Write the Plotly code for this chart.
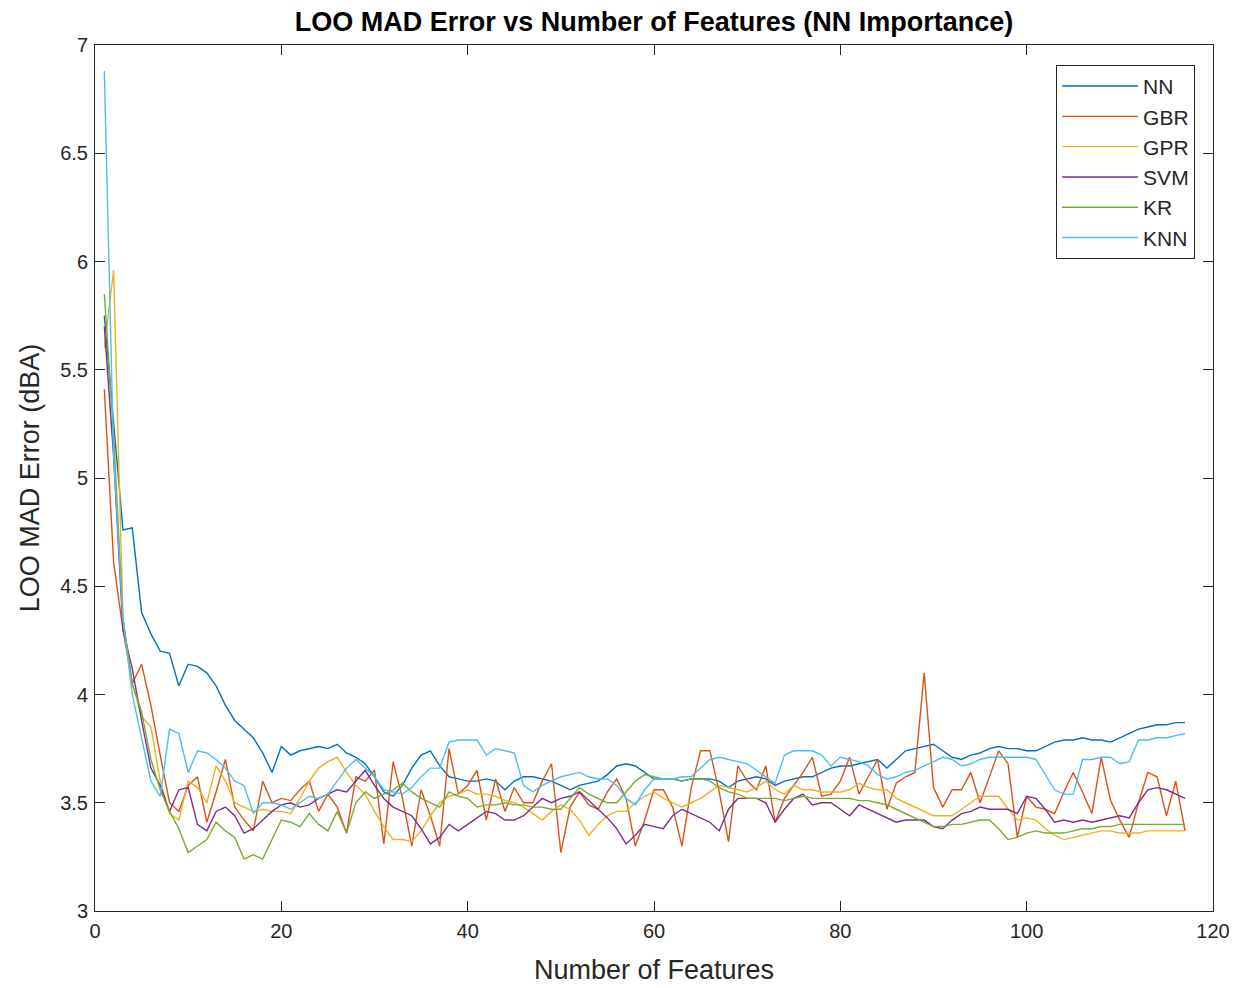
import plotly.graph_objects as go

# Number of features used in each leave-one-out run
n_features = list(range(1, 118))

nn = [5.75, 5.25, 4.76, 4.77, 4.38, 4.28, 4.20, 4.19, 4.04, 4.14,
      4.13, 4.10, 4.04, 3.95, 3.88, 3.84, 3.80, 3.73, 3.64, 3.76,
      3.72, 3.74, 3.75, 3.76, 3.75, 3.77, 3.73, 3.71, 3.68, 3.62,
      3.55, 3.53, 3.58, 3.66, 3.72, 3.74, 3.67, 3.62, 3.61, 3.60,
      3.60, 3.61, 3.60, 3.56, 3.60, 3.62, 3.62, 3.61, 3.60, 3.58,
      3.56, 3.58, 3.59, 3.60, 3.63, 3.67, 3.68, 3.67, 3.64, 3.61,
      3.61, 3.61, 3.60, 3.61, 3.61, 3.61, 3.60, 3.57, 3.60, 3.61,
      3.62, 3.61, 3.58, 3.60, 3.61, 3.62, 3.62, 3.64, 3.66, 3.67,
      3.67, 3.68, 3.69, 3.70, 3.66, 3.70, 3.74, 3.75, 3.76, 3.77,
      3.74, 3.71, 3.70, 3.72, 3.73, 3.75, 3.76, 3.75, 3.75, 3.74,
      3.74, 3.76, 3.78, 3.79, 3.79, 3.80, 3.79, 3.79, 3.78, 3.80,
      3.82, 3.84, 3.85, 3.86, 3.86, 3.87, 3.87]

gbr = [5.41, 4.61, 4.30, 4.05, 4.14, 3.95, 3.72, 3.50, 3.46, 3.58,
       3.62, 3.41, 3.55, 3.70, 3.48, 3.42, 3.37, 3.60, 3.50, 3.52,
       3.51, 3.56, 3.60, 3.46, 3.54, 3.48, 3.36, 3.62, 3.60, 3.65,
       3.31, 3.69, 3.52, 3.30, 3.56, 3.44, 3.30, 3.75, 3.54, 3.58,
       3.65, 3.42, 3.61, 3.46, 3.57, 3.50, 3.50, 3.60, 3.68, 3.27,
       3.48, 3.55, 3.49, 3.47, 3.55, 3.61, 3.52, 3.30, 3.42, 3.56,
       3.56, 3.48, 3.30, 3.57, 3.74, 3.74, 3.55, 3.32, 3.67, 3.60,
       3.56, 3.67, 3.41, 3.52, 3.58, 3.64, 3.71, 3.53, 3.54, 3.60,
       3.71, 3.54, 3.62, 3.70, 3.47, 3.59, 3.62, 3.64, 4.10, 3.57,
       3.48, 3.56, 3.56, 3.64, 3.50, 3.62, 3.74, 3.68, 3.34, 3.53,
       3.48, 3.47, 3.45, 3.55, 3.64, 3.55, 3.45, 3.71, 3.51, 3.42,
       3.34, 3.50, 3.64, 3.62, 3.44, 3.60, 3.37]

gpr = [5.60, 5.96, 4.35, 4.05, 3.90, 3.85, 3.60, 3.45, 3.42, 3.60,
       3.57, 3.50, 3.67, 3.60, 3.50, 3.48, 3.46, 3.47, 3.46, 3.46,
       3.45, 3.52, 3.60, 3.66, 3.69, 3.71, 3.64, 3.58, 3.54, 3.46,
       3.39, 3.33, 3.33, 3.32, 3.37, 3.44, 3.50, 3.53, 3.54, 3.56,
       3.54, 3.54, 3.53, 3.51, 3.50, 3.48, 3.45, 3.42, 3.46, 3.49,
       3.47, 3.42, 3.35, 3.40, 3.44, 3.46, 3.46, 3.50, 3.53, 3.55,
       3.52, 3.50, 3.48, 3.50, 3.52, 3.55, 3.58, 3.57, 3.56, 3.55,
       3.57, 3.60, 3.56, 3.54, 3.58, 3.56, 3.56, 3.55, 3.55, 3.55,
       3.56, 3.59, 3.57, 3.56, 3.56, 3.52, 3.50, 3.48, 3.46, 3.44,
       3.44, 3.44, 3.47, 3.50, 3.53, 3.53, 3.53, 3.47, 3.42, 3.43,
       3.42, 3.38, 3.35, 3.33, 3.34, 3.35, 3.36, 3.37, 3.37, 3.36,
       3.36, 3.36, 3.37, 3.37, 3.37, 3.37, 3.37]

svm = [5.70, 5.10, 4.30, 4.12, 3.88, 3.66, 3.58, 3.46, 3.56, 3.57,
       3.40, 3.37, 3.46, 3.48, 3.44, 3.36, 3.38, 3.42, 3.46, 3.49,
       3.50, 3.48, 3.49, 3.52, 3.54, 3.56, 3.55, 3.60, 3.65, 3.58,
       3.52, 3.48, 3.46, 3.44, 3.38, 3.31, 3.34, 3.40, 3.37, 3.40,
       3.43, 3.46, 3.45, 3.42, 3.42, 3.44, 3.48, 3.52, 3.50, 3.52,
       3.53, 3.55, 3.51, 3.47, 3.43, 3.38, 3.31, 3.35, 3.40, 3.39,
       3.38, 3.44, 3.47, 3.45, 3.43, 3.41, 3.37, 3.47, 3.52, 3.52,
       3.52, 3.50, 3.41, 3.47, 3.52, 3.54, 3.49, 3.50, 3.50, 3.47,
       3.44, 3.49, 3.47, 3.45, 3.43, 3.41, 3.42, 3.42, 3.42, 3.39,
       3.38, 3.42, 3.45, 3.46, 3.48, 3.47, 3.47, 3.47, 3.45, 3.53,
       3.52, 3.47, 3.41, 3.42, 3.41, 3.42, 3.41, 3.42, 3.43, 3.44,
       3.43, 3.50, 3.56, 3.57, 3.56, 3.54, 3.52]

kr = [5.85, 5.20, 4.35, 4.05, 3.92, 3.70, 3.56, 3.46, 3.38, 3.27,
      3.30, 3.33, 3.41, 3.37, 3.34, 3.24, 3.26, 3.24, 3.33, 3.42,
      3.41, 3.39, 3.45, 3.40, 3.37, 3.46, 3.36, 3.50, 3.55, 3.52,
      3.54, 3.56, 3.59, 3.55, 3.52, 3.50, 3.48, 3.55, 3.53, 3.52,
      3.48, 3.49, 3.49, 3.50, 3.49, 3.49, 3.48, 3.48, 3.47, 3.47,
      3.52, 3.57, 3.54, 3.52, 3.50, 3.50, 3.55, 3.60, 3.63, 3.62,
      3.61, 3.61, 3.60, 3.61, 3.61, 3.60, 3.57, 3.55, 3.54, 3.52,
      3.52, 3.52, 3.52, 3.51, 3.52, 3.53, 3.52, 3.52, 3.52, 3.52,
      3.52, 3.51, 3.51, 3.50, 3.49, 3.47, 3.45, 3.43, 3.41, 3.39,
      3.39, 3.40, 3.40, 3.41, 3.42, 3.42, 3.38, 3.33, 3.34, 3.36,
      3.37, 3.36, 3.36, 3.36, 3.37, 3.38, 3.38, 3.39, 3.39, 3.40,
      3.40, 3.40, 3.40, 3.40, 3.40, 3.40, 3.40]

knn = [6.88, 5.10, 4.35, 4.00, 3.80, 3.60, 3.53, 3.84, 3.82, 3.64,
       3.74, 3.73, 3.70, 3.66, 3.60, 3.58, 3.45, 3.50, 3.50, 3.49,
       3.47, 3.50, 3.53, 3.52, 3.54, 3.60, 3.66, 3.70, 3.66, 3.62,
       3.56, 3.55, 3.54, 3.57, 3.62, 3.66, 3.66, 3.78, 3.79, 3.79,
       3.79, 3.72, 3.75, 3.74, 3.73, 3.58, 3.55, 3.58, 3.60, 3.62,
       3.63, 3.64, 3.62, 3.61, 3.61, 3.58, 3.52, 3.49, 3.56, 3.61,
       3.61, 3.61, 3.62, 3.62, 3.66, 3.70, 3.71, 3.70, 3.69, 3.68,
       3.65, 3.62, 3.59, 3.72, 3.74, 3.74, 3.74, 3.72, 3.67, 3.71,
       3.70, 3.69, 3.67, 3.63, 3.61, 3.62, 3.64, 3.65, 3.67, 3.69,
       3.71, 3.70, 3.67, 3.68, 3.70, 3.71, 3.71, 3.71, 3.71, 3.71,
       3.70, 3.63, 3.56, 3.54, 3.54, 3.70, 3.70, 3.71, 3.71, 3.68,
       3.69, 3.79, 3.79, 3.80, 3.80, 3.81, 3.82]

series_names = ["NN", "GBR", "GPR", "SVM", "KR", "KNN"]
series_values = [nn, gbr, gpr, svm, kr, knn]
series_colors = ["#0072BD", "#D95319", "#EDB120", "#7E2F8E", "#77AC30", "#4DBEEE"]

x_ticks = [0, 20, 40, 60, 80, 100, 120]
y_ticks = [3, 3.5, 4, 4.5, 5, 5.5, 6, 6.5, 7]

FONT = "Liberation Sans, Arial, Helvetica, sans-serif"
INK = "#262626"

fig = go.Figure()
for name, vals, color in zip(series_names, series_values, series_colors):
    fig.add_trace(go.Scatter(
        x=n_features, y=vals, mode="lines", name=name,
        line=dict(color=color, width=1.4),
    ))

axis_common = dict(
    showgrid=False, zeroline=False, automargin=False,
    showline=True, linecolor=INK, linewidth=1, mirror="allticks",
    ticks="inside", ticklen=10, tickwidth=1, tickcolor=INK,
    tickfont=dict(family=FONT, size=20, color=INK),
)

fig.update_layout(
    width=1244, height=988,
    paper_bgcolor="white", plot_bgcolor="white",
    margin=dict(l=95, r=31, t=45, b=77),
    title=dict(
        text="<b>LOO MAD Error vs Number of Features (NN Importance)</b>",
        xref="paper", x=0.5, xanchor="center", y=0.978, yanchor="middle",
        font=dict(family=FONT, size=27, color="black"),
    ),
    xaxis=dict(
        range=[0, 120], tickvals=x_ticks, ticklabelstandoff=2,
        title=dict(text="Number of Features", standoff=19,
                   font=dict(family=FONT, size=27, color=INK)),
        **axis_common,
    ),
    yaxis=dict(
        range=[3, 7], tickvals=y_ticks, ticklabelstandoff=2,
        title=dict(text="LOO MAD Error (dBA)", standoff=12,
                   font=dict(family=FONT, size=27, color=INK)),
        **axis_common,
    ),
    legend=dict(
        x=0.984, y=0.977, xanchor="right", yanchor="top",
        bgcolor="white", bordercolor=INK, borderwidth=1,
        font=dict(family=FONT, size=21, color=INK),
        itemwidth=76, tracegroupgap=0,
    ),
    showlegend=True,
)

fig.write_html("out.html")
